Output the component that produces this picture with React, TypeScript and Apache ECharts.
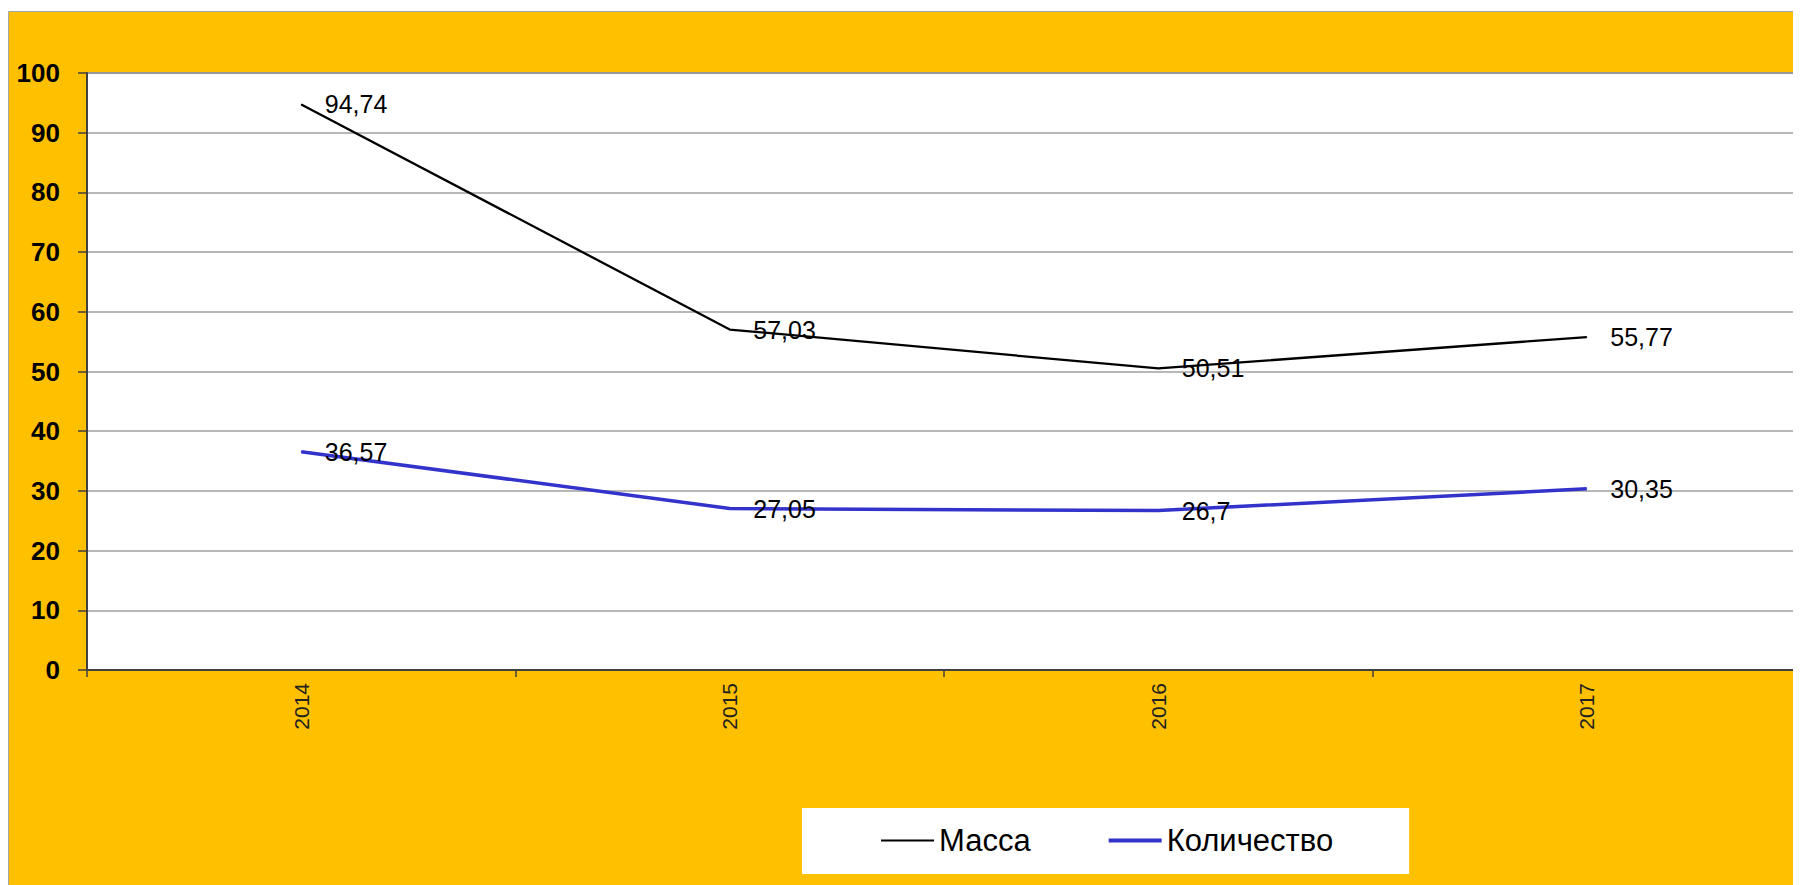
import React, { useEffect, useRef } from "react";
import * as echarts from "echarts";

const categories = ["2014", "2015", "2016", "2017"];
const massa = [94.74, 57.03, 50.51, 55.77];
const kolichestvo = [36.57, 27.05, 26.7, 30.35];
const seriesNames = ["Масса", "Количество"];

const FONT = 'Arial, "Liberation Sans", sans-serif';

export default function App() {
  const ref = useRef<HTMLDivElement>(null);
  useEffect(() => {
    document.body.style.overflow = "hidden";
    const chart = echarts.init(ref.current!, null, { renderer: "svg" });
    const fmt = (p: any) => String(p.value).replace(".", ",");
    const label = {
      show: true,
      position: "right",
      distance: 23,
      fontFamily: FONT,
      fontSize: 25,
      color: "#000",
      formatter: fmt,
    };
    chart.setOption({
      animation: false,
      backgroundColor: "#ffffff",
      graphic: [
        {
          type: "rect",
          z: -10,
          shape: { x: 0.5, y: 3.5, width: 1850, height: 950 },
          style: { fill: "#FFC000", stroke: "#A6A6A6", lineWidth: 1 },
        },
      ],
      grid: {
        left: 79,
        top: 65,
        right: -7,
        bottom: 215,
        show: true,
        backgroundColor: "#ffffff",
        borderColor: "#808080",
        borderWidth: 2,
      },
      legend: {
        left: 794,
        top: 800,
        padding: [17, 76, 18, 79],
        itemGap: 78,
        itemWidth: 53,
        itemHeight: 4,
        backgroundColor: "#ffffff",
        textStyle: { fontFamily: FONT, fontSize: 31, color: "#000" },
        data: [
          { name: seriesNames[0], icon: "path://M0,0H53V2H0Z" },
          { name: seriesNames[1], icon: "path://M0,0H53V4H0Z" },
        ],
      },
      xAxis: {
        type: "category",
        data: categories,
        boundaryGap: true,
        axisLine: { lineStyle: { color: "#404040", width: 2 } },
        axisTick: { show: true, length: 7, lineStyle: { color: "#404040", width: 1.5 } },
        axisLabel: {
          rotate: 90,
          margin: 13,
          fontFamily: FONT,
          fontSize: 21,
          color: "#222",
        },
        splitLine: { show: false },
      },
      yAxis: {
        type: "value",
        min: 0,
        max: 100,
        interval: 10,
        axisLine: { show: true, lineStyle: { color: "#404040", width: 2 } },
        axisTick: { show: true, length: 9, lineStyle: { color: "#404040", width: 1.5 } },
        axisLabel: {
          margin: 27,
          fontFamily: FONT,
          fontSize: 26,
          fontWeight: "bold",
          color: "#000",
        },
        splitLine: { lineStyle: { color: "#A0A0A0", width: 1.5 } },
      },
      series: [
        {
          name: seriesNames[0],
          type: "line",
          data: massa,
          symbol: "circle",
          symbolSize: 1,
          showSymbol: true,
          lineStyle: { color: "#000000", width: 2.3 },
          itemStyle: { color: "#000000" },
          label,
        },
        {
          name: seriesNames[1],
          type: "line",
          data: kolichestvo,
          symbol: "circle",
          symbolSize: 1,
          showSymbol: true,
          lineStyle: { color: "#3333CC", width: 3.5 },
          itemStyle: { color: "#3333CC" },
          label,
        },
      ],
    });
    return () => chart.dispose();
  }, []);
  return <div ref={ref} style={{ width: 1793, height: 877 }} />;
}
